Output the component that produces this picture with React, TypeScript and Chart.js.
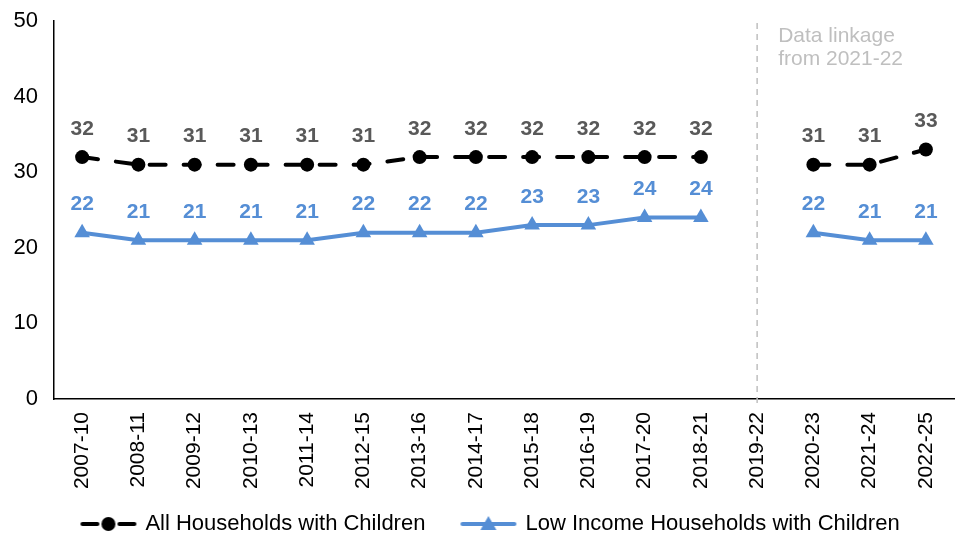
import { useEffect, useRef } from "react";
import { Chart, registerables } from "chart.js";

Chart.register(...registerables);

const categories = [
  "2007-10", "2008-11", "2009-12", "2010-13", "2011-14", "2012-15", "2013-16", "2014-17",
  "2015-18", "2016-19", "2017-20", "2018-21", "2019-22", "2020-23", "2021-24", "2022-25",
];
const allHouseholds = [32, 31, 31, 31, 31, 31, 32, 32, 32, 32, 32, 32, null, 31, 31, 33];
const lowIncome = [22, 21, 21, 21, 21, 22, 22, 22, 23, 23, 24, 24, null, 22, 21, 21];
const seriesNames = ["All Households with Children", "Low Income Households with Children"];
const yMin = 0;
const yMax = 50;
const yStep = 10;
const breakCategory = "2019-22";
const annotationLines = ["Data linkage", "from 2021-22"];

const BLUE = "#558ED5";
const FONT = "'Liberation Sans', Arial, sans-serif";

function makeIcon(kind: "circle" | "triangle"): HTMLCanvasElement {
  const c = document.createElement("canvas");
  c.width = 58;
  c.height = 20;
  const ctx = c.getContext("2d")!;
  ctx.lineCap = "round";
  if (kind === "circle") {
    ctx.strokeStyle = "#000";
    ctx.lineWidth = 4;
    ctx.beginPath();
    ctx.moveTo(3, 10);
    ctx.lineTo(18, 10);
    ctx.moveTo(40, 10);
    ctx.lineTo(55, 10);
    ctx.stroke();
    ctx.fillStyle = "#000";
    ctx.beginPath();
    ctx.arc(29, 10, 7, 0, Math.PI * 2);
    ctx.fill();
  } else {
    ctx.strokeStyle = BLUE;
    ctx.lineWidth = 4;
    ctx.beginPath();
    ctx.moveTo(3, 10);
    ctx.lineTo(55, 10);
    ctx.stroke();
    ctx.fillStyle = BLUE;
    ctx.beginPath();
    ctx.moveTo(29, 2);
    ctx.lineTo(37, 16);
    ctx.lineTo(21, 16);
    ctx.closePath();
    ctx.fill();
  }
  return c;
}

const dataLabelPlugin = {
  id: "dataLabels",
  afterDatasetsDraw(chart: any) {
    const ctx = chart.ctx;
    ctx.save();
    ctx.font = `bold 21px ${FONT}`;
    ctx.textAlign = "center";
    ctx.textBaseline = "middle";
    chart.data.datasets.forEach((ds: any, i: number) => {
      const meta = chart.getDatasetMeta(i);
      ctx.fillStyle = i === 0 ? "#595959" : BLUE;
      meta.data.forEach((pt: any, j: number) => {
        const v = ds.data[j];
        if (v === null || v === undefined) return;
        ctx.fillText(String(v), pt.x, pt.y - 28);
      });
    });
    ctx.restore();
  },
};

const breakLinePlugin = {
  id: "breakLine",
  beforeDatasetsDraw(chart: any) {
    const ctx = chart.ctx;
    const x = chart.scales.x.getPixelForValue(categories.indexOf(breakCategory));
    const area = chart.chartArea;
    ctx.save();
    ctx.strokeStyle = "#BFBFBF";
    ctx.lineWidth = 1.5;
    ctx.setLineDash([6, 5]);
    ctx.beginPath();
    ctx.moveTo(x, area.top + 2);
    ctx.lineTo(x, area.bottom + 4);
    ctx.stroke();
    ctx.setLineDash([]);
    ctx.fillStyle = "#BFBFBF";
    ctx.font = `21px ${FONT}`;
    ctx.textAlign = "left";
    ctx.textBaseline = "middle";
    annotationLines.forEach((t, k) => {
      ctx.fillText(t, x + 21, area.top + 15 + k * 23);
    });
    ctx.restore();
  },
};

const legendShiftPlugin = {
  id: "legendShift",
  afterLayout(chart: any) {
    const lg = chart.legend;
    if (!lg) return;
    lg.left += 14;
    lg.right += 14;
    lg.top += 2;
    lg.bottom += 2;
  },
};

export default function App() {
  const ref = useRef<HTMLCanvasElement>(null);
  useEffect(() => {
    if (!ref.current) return;
    const icons = [makeIcon("circle"), makeIcon("triangle")];
    const chart = new Chart(ref.current, {
      type: "line",
      data: {
        labels: categories,
        datasets: [
          {
            label: seriesNames[0],
            data: allHouseholds,
            borderColor: "#000",
            backgroundColor: "#000",
            borderWidth: 4,
            borderDash: [16, 18],
            borderCapStyle: "round",
            pointStyle: "circle",
            pointRadius: 7,
            pointHoverRadius: 7,
            pointBorderWidth: 0,
            spanGaps: false,
            tension: 0,
          },
          {
            label: seriesNames[1],
            data: lowIncome,
            borderColor: BLUE,
            backgroundColor: BLUE,
            borderWidth: 4,
            borderCapStyle: "round",
            pointStyle: "triangle",
            pointRadius: 9,
            pointHoverRadius: 9,
            pointBorderWidth: 0,
            spanGaps: false,
            tension: 0,
          },
        ],
      },
      options: {
        animation: false,
        responsive: true,
        maintainAspectRatio: false,
        layout: { padding: { top: 21, right: 12, left: 0, bottom: 0 } },
        scales: {
          x: {
            offset: true,
            grid: { display: false, drawTicks: false },
            border: { display: true, color: "#000", width: 1.5 },
            ticks: {
              autoSkip: false,
              maxRotation: 90,
              minRotation: 90,
              padding: 13,
              color: "#000",
              font: { family: FONT, size: 21 },
            },
            afterFit(scale: any) {
              scale.height = 75;
              scale._computeLabelArea = () => undefined;
            },
          },
          y: {
            min: yMin,
            max: yMax,
            grid: { display: false, drawTicks: false },
            border: { display: true, color: "#000", width: 1.5 },
            ticks: {
              stepSize: yStep,
              padding: 16,
              color: "#000",
              font: { family: FONT, size: 22 },
            },
            afterFit(scale: any) {
              scale.width = 54;
              scale.paddingTop = 0;
              scale.paddingBottom = 0;
            },
          },
        },
        plugins: {
          tooltip: { enabled: false },
          legend: {
            position: "bottom",
            labels: {
              usePointStyle: true,
              pointStyleWidth: 52,
              padding: 37,
              color: "#000",
              font: { family: FONT, size: 22 },
              generateLabels(c: any) {
                const base = Chart.defaults.plugins.legend.labels.generateLabels(c);
                return base.map((l: any, i: number) => ({ ...l, pointStyle: icons[i], lineDash: [] }));
              },
            },
          },
        },
      },
      plugins: [dataLabelPlugin, breakLinePlugin, legendShiftPlugin],
    });
    return () => chart.destroy();
  }, []);
  return (
    <div style={{ position: "fixed", left: 0, top: 0, width: 966, height: 543 }}>
      <canvas ref={ref} />
    </div>
  );
}
